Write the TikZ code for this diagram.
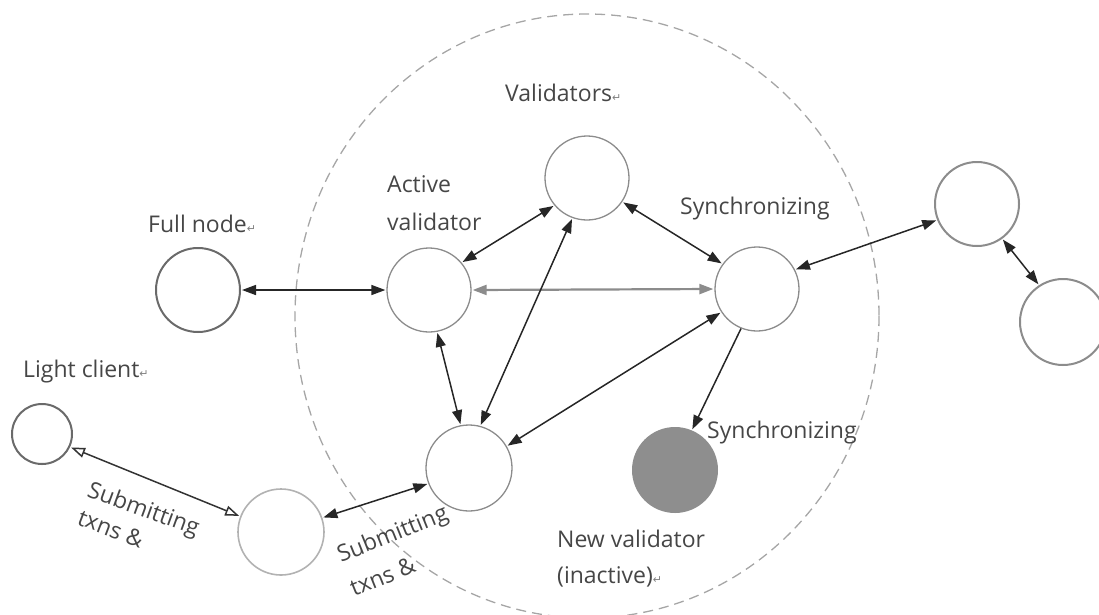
\documentclass[tikz,border=0pt]{standalone}
\usepackage{fontspec}
\setmainfont{Open Sans}
\newfontfamily\dejavu{DejaVu Sans}
\usetikzlibrary{arrows.meta}
\definecolor{txt}{HTML}{464646}
\definecolor{ring}{HTML}{8C8C8C}
\definecolor{darkring}{HTML}{6A6A6A}
\definecolor{fillg}{HTML}{8E8E8E}
\newcommand{\ret}{{\dejavu\fontsize{11}{11}\selectfont\color{gray}↵}}
\tikzset{
  nd/.style={circle, draw=ring, line width=1.3pt, minimum size=84pt, inner sep=0pt},
  ndk/.style={nd, draw=darkring, line width=2pt},
  lbl/.style={text=txt, font=\fontsize{23}{26}\selectfont, anchor=base west, inner sep=0pt},
  tip/.style={Triangle[length=14pt,width=10pt]},
  con/.style={line width=1.5pt, draw=black!85, {Triangle[length=14pt,width=10pt]}-{Triangle[length=14pt,width=10pt]}, shorten <=1pt, shorten >=1pt},
  one/.style={line width=1.5pt, draw=black!85, -{Triangle[length=14pt,width=10pt]}, shorten >=1pt},
  ocon/.style={line width=1.5pt, draw=black!80, {Triangle[open,length=14pt,width=10pt]}-{Triangle[open,length=14pt,width=10pt]}, shorten <=1pt, shorten >=1pt},
}
\begin{document}
\begin{tikzpicture}[x=1pt,y=-1pt]
\useasboundingbox (0,0) rectangle (1099,614);
% big dashed boundary
\draw[draw=gray!70, line width=1.3pt, dash pattern=on 10pt off 6pt] (587,316) ellipse [x radius=292, y radius=302];
% nodes
\node[nd] (val) at (587,178) {};
\node[nd] (act) at (429,290) {};
\node[nd] (syn) at (757,289) {};
\node[ndk] (full) at (198,290) {};
\node[ndk, draw=gray!90] (rt) at (977,204) {};
\node[ndk, draw=gray!90, minimum size=86pt] (rb) at (1063,322) {};
\node[ndk, minimum size=60pt] (lc) at (42,434) {};
\node[nd, draw=gray!60, line width=1.6pt, minimum size=86pt] (bs) at (281,532) {};
\node[nd, minimum size=86pt] (cb) at (469,468) {};
\node[circle, fill=fillg, minimum size=86pt, inner sep=0pt] (new) at (675,470) {};
% labels
\node[lbl] (lval) at (505,101) {Validators\ret};
\node[lbl] (lfull) at (148,232) {Full node\ret};
\node[lbl] (lact1) at (387,192) {Active};
\node[lbl] (lact2) at (387,230) {validator};
\node[lbl] (lsyn) at (680,214) {Synchronizing};
\node[lbl] (llc) at (23,377) {Light client\ret};
\node[lbl] (lsyn2) at (707,438) {Synchronizing};
\node[lbl] (lnew1) at (557,547) {New validator};
\node[lbl] (lnew2) at (557,583) {(inactive)\ret};
\node[lbl, rotate=-20] (ls1) at (86,496) {Submitting};
\node[lbl, rotate=-21] (ls2) at (76,524) {txns \&};
\node[lbl, rotate=22] (rs1) at (341,563) {Submitting};
\node[lbl, rotate=22] (rs2) at (354,597) {txns \&};
% connectors
\draw[con] (full.east) -- (act.west);
\draw[con, draw=gray!90, line width=2.2pt] (act.east) -- (syn.west);
\draw[con] (act.40) -- (val.220);
\draw[con] (val.326) -- (syn.144);
\draw[con] (val.250) -- (cb.75);
\draw[con] (act.281) -- (cb.101);
\draw[con] (syn.213) -- (cb.30);
\draw[one] (syn.248) -- (new.67);
\draw[con] (syn.27) -- (rt.202);
\draw[con] (rt.306) -- (rb.123);
\draw[ocon] (lc.335) -- (bs.159);
\draw[con] (bs.19) -- (cb.201);
\end{tikzpicture}
\end{document}
